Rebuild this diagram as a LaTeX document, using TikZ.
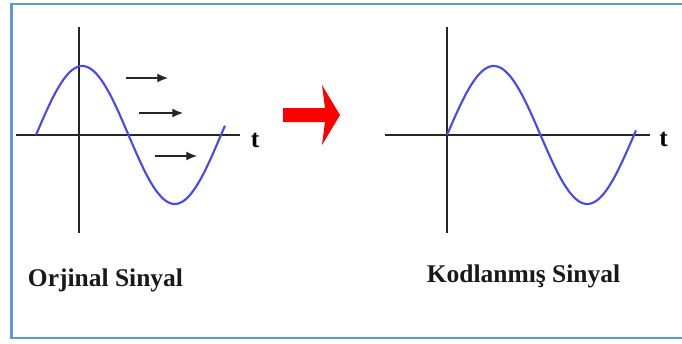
\documentclass[tikz,border=0pt]{standalone}
\usepackage{fontspec}
\setmainfont{Liberation Serif}
\usetikzlibrary{arrows.meta}

\definecolor{frameblue}{RGB}{91,155,213}
\definecolor{waveblue}{RGB}{72,72,238}

\begin{document}
\begin{tikzpicture}[
    axis/.style={line width=1.5pt, draw=black!85},
    wave/.style={line width=1.2pt, draw=waveblue},
    shiftarrow/.style={line width=0.6pt, draw=black!85, -{Latex[length=6pt, width=5pt]}},
    bigarrow/.style={fill=red, draw=none},
    label/.style={font=\fontsize{14.5}{17}\selectfont\bfseries, text=black!90},
    tlabel/.style={font=\fontsize{14.5}{17}\selectfont\bfseries, inner sep=0pt}
]
\useasboundingbox (0,0) rectangle (13.64,6.86);

% Frame
\draw[frameblue, line width=1.2pt] (0.23,0.1) rectangle (13.75,6.78);

% Original signal
\draw[axis] (1.58,6.32) -- (1.58,2.2);
\draw[axis] (0.32,4.16) -- (4.8,4.16);
\node[tlabel] (t1) at (5.1,4.06) {t};
\draw[wave] plot[domain=0:3.78, samples=90, smooth] ({0.72+\x},{4.16+1.38*sin(\x/3.7*360)});

% Shift arrows
\draw[shiftarrow] (2.52,5.3) -- (3.36,5.3);
\draw[shiftarrow] (2.78,4.6) -- (3.66,4.6);
\draw[shiftarrow] (3.1,3.74) -- (3.94,3.74);

% Red arrow
\fill[bigarrow] (5.66,4.42) -- (6.5,4.42) -- (6.44,3.96) -- (6.8,4.56)
    -- (6.44,5.16) -- (6.5,4.7) -- (5.66,4.7) -- cycle;

% Coded signal
\draw[axis] (8.94,6.32) -- (8.94,2.2);
\draw[axis] (7.7,4.16) -- (13.0,4.16);
\node[tlabel] (t2) at (13.27,4.08) {t};
\draw[wave] plot[domain=0:3.78, samples=90, smooth] ({8.94+\x},{4.16+1.38*sin(\x/3.74*360)});

% Labels
\node[label] (orig) at (2.11,1.26) {Orjinal Sinyal};
\node[label] (coded) at (10.47,1.34) {Kodlanmış Sinyal};

\end{tikzpicture}
\end{document}
